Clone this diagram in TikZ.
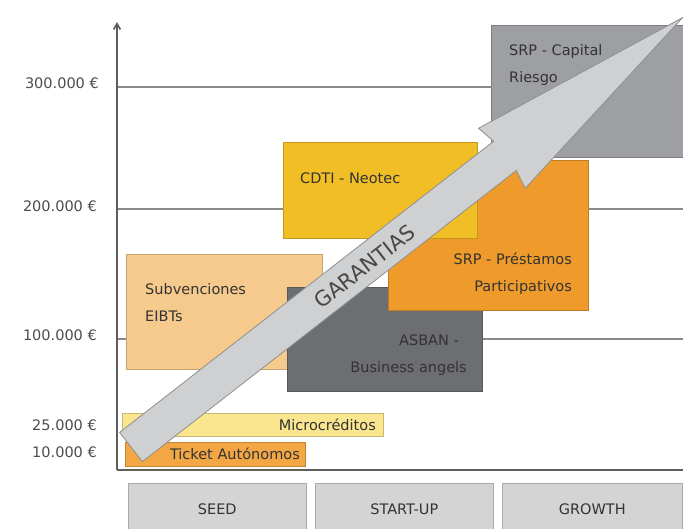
\documentclass[tikz,border=0pt]{standalone}
\usepackage{fontspec}
\setmainfont{DejaVu Sans}
\usetikzlibrary{
  arrows.meta, % for Straight Barb arrow tip on the axis
}
\definecolor{subvcol}{HTML}{F6CA8C}
\definecolor{asbancol}{HTML}{6D6E71}
\definecolor{prestcol}{HTML}{EF9B2B}
\definecolor{cdticol}{HTML}{F2BE26}
\definecolor{capcol}{HTML}{9D9FA2}
\definecolor{microcol}{HTML}{FAE68E}
\definecolor{ticketcol}{HTML}{F2A744}
\definecolor{stagecol}{HTML}{D4D4D4}
\definecolor{arrowcol}{HTML}{CFD0D2}
\definecolor{arrowedge}{HTML}{8E8F91}
\definecolor{gridcol}{HTML}{8A8A8A}
\definecolor{axiscol}{HTML}{5E5E5E}
\definecolor{txtcol}{HTML}{333333}
\definecolor{axtxtcol}{HTML}{4D4D4D}
\tikzset{
  box/.style={ % style for each funding box
    rectangle,fill=#1,draw=#1!80!black, % filled with its colour, darker edge
    line width=0.6pt,
    inner sep=0pt, % the text is set by separate nodes
    anchor=north west, % boxes are placed by their top left corner
  },
  boxtext/.style={ % style for the texts in the boxes
    font=\fontsize{14.5}{27}\selectfont,
    text=txtcol,
    inner sep=0pt,
  },
  ylabel/.style={ % style for the amounts on the axis
    font=\fontsize{14.5}{17}\selectfont,
    text=axtxtcol,
    anchor=east,
    inner sep=0pt,
  },
  stage/.style={ % style for the stages below the axis
    box=stagecol,
    minimum width=178pt,
    minimum height=52pt,
  },
  gridline/.style={ % style for the horizontal lines
    draw=gridcol,
    line width=1.2pt,
  },
  axis/.style={ % style for the axes
    draw=axiscol,
    line width=1.6pt,
  },
  garantias/.style={ % style for the big arrow
    fill=arrowcol,draw=arrowedge,
    line width=0.8pt,
  },
}
\begin{document}
\begin{tikzpicture}[x=1pt,y=-1pt]
  \useasboundingbox[fill=white] (0,0) rectangle (683,529);
  % axes and grid
  \coordinate (o) at (117,470);
  \coordinate (top) at (117,22);
  \coordinate (e) at (683,470);
  \foreach \v/\y in {300/87,200/209,100/339}{
    \coordinate (g\v) at (117,\y);
    \draw[gridline] (g\v) -- (g\v -| e);
  }
  \draw[axis] (e) -- (o);
  \draw[axis,-{Straight Barb[angle=60:2pt 3]}] (o) -- (top);
  % amounts
  \node[ylabel] (l300) at (99,83) {300.000 €};
  \node[ylabel] (l200) at (97,206) {200.000 €};
  \node[ylabel] (l100) at (97,335) {100.000 €};
  \node[ylabel] (l25) at (97,425) {25.000 €};
  \node[ylabel] (l10) at (97,452) {10.000 €};
  % funding boxes
  \node[box=subvcol, minimum width=196pt, minimum height=115pt] (subv) at (126,254) {};
  \node[box=asbancol, minimum width=195pt, minimum height=104pt] (asban) at (287,287) {};
  \node[box=prestcol, minimum width=200pt, minimum height=150pt] (prest) at (388,160) {};
  \node[box=cdticol, minimum width=194pt, minimum height=96pt] (cdti) at (283,142) {};
  \node[box=capcol, minimum width=200pt, minimum height=132pt] (cap) at (491,25) {};
  \node[box=microcol, minimum width=261pt, minimum height=23pt] (micro) at (122,413) {};
  \node[box=ticketcol, minimum width=180pt, minimum height=24pt] (ticket) at (125,442) {};
  \node[boxtext, anchor=west, align=left] (subvt) at (145,302.5) {Subvenciones\\EIBTs};
  \node[boxtext, anchor=east, align=right] (asbant) at (467,355) {ASBAN -\hspace*{8pt}\\Business angels};
  \node[boxtext, anchor=east, align=right] (prestt) at (572,273.5) {SRP - Préstamos\\Participativos};
  \node[boxtext, anchor=west] (cdtit) at (300,178) {CDTI - Neotec};
  \node[boxtext, anchor=west, align=left] (capt) at (509,65.5) {SRP - Capital\\Riesgo};
  \node[boxtext, anchor=east] (microt) at (376,425) {Microcréditos};
  \node[boxtext, anchor=east] (tickett) at (300,454) {Ticket Autónomos};
  % garantias arrow
  \begin{scope}[shift={(131,447)}, rotate=37.9]
    \draw[garantias] (0,-18.5) -- (474,-18.5) -- (470,-38) -- (699,0)
      -- (470,38) -- (474,18.5) -- (0,18.5) -- cycle;
    \node[rotate=37.9, font=\fontsize{21}{21}\selectfont, text=txtcol!90!white] (gar) at (295,1) {GARANTIAS};
  \end{scope}
  % stages
  \node[stage] (seed) at (128,483) {};
  \node[stage] (startup) at (315,483) {};
  \node[stage, minimum width=180pt] (growth) at (502,483) {};
  \node[boxtext] at (seed.center) {SEED};
  \node[boxtext] at (startup.center) {START-UP};
  \node[boxtext] at (growth.center) {GROWTH};
\end{tikzpicture}
\end{document}
